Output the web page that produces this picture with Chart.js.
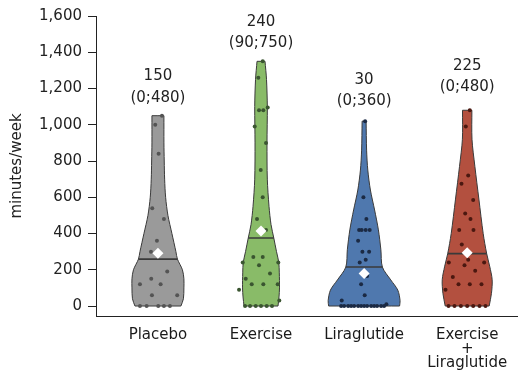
<!DOCTYPE html>
<html><head><meta charset="utf-8">
<script src="https://cdn.jsdelivr.net/npm/chart.js@4/dist/chart.umd.min.js"></script>
<style>html,body{margin:0;padding:0;background:#fff}#wrap{width:523px;height:380px;position:relative}</style>
</head><body><div id="wrap"><canvas id="c"></canvas></div>
<script>
// ---------- data ----------
const categories = ['Placebo', 'Exercise', 'Liraglutide', 'Exercise + Liraglutide'];
const tickLabels = [['Placebo'], ['Exercise'], ['Liraglutide'], ['Exercise', '+', 'Liraglutide']];
const yTicks = [0, 200, 400, 600, 800, 1000, 1200, 1400, 1600];
const medianText = ['150', '240', '30', '225'];
const rangeText = ['(0;480)', '(90;750)', '(0;360)', '(0;480)'];

const placeboValues = [1050, 1000, 840, 540, 480, 360, 300, 190, 150, 120, 120, 60, 60, 0, 0, 0, 0, 0];
const exerciseValues = [1350, 1260, 1080, 1080, 1095, 990, 900, 750, 600, 480, 420, 270, 270, 240, 240, 225, 180, 150, 120, 120, 120, 90, 30, 0, 0, 0, 0, 0, 0];
const liraglutideValues = [1020, 600, 480, 420, 420, 420, 420, 360, 300, 300, 255, 240, 165, 120, 60, 30, 10, 0, 0, 0, 0, 0, 0, 0, 0, 0, 0, 0, 0, 0, 0];
const comboValues = [1080, 990, 720, 675, 585, 510, 480, 420, 420, 340, 255, 240, 240, 225, 195, 160, 120, 120, 120, 90, 0, 0, 0, 0, 0, 0, 0];

// horizontal jitter of each dot (px)
const placeboJitter = [4, -2.7, 0.7, -5.7, 6, -1, -7, 9.3, -6.7, -18, 2.7, -6, 19.3, -18, -11.3, 0.3, 6, 12];
const exerciseJitter = [1.7, -2.7, -2, 2.3, 6.7, -6.3, 5, -0.3, 1.7, -4, 5, -7.7, 1.7, -18.3, 17.3, -2, 9, -15.3, -9.3, 2.3, 16.7, -22, 18.3, -16, -11, -5.3, 0, 5.7, 11];
const liraglutideJitter = [1, -0.7, 2.3, -5, -2.4, 1.6, 5.6, -6, -1.7, 5, 1.6, -4.4, 3, -3, 0.6, -22.4, 22.3, -23, -20, -16, -13, -10, -6, -3, 0, 3, 7, 10, 13, 17, 20];
const comboJitter = [2.6, -1.4, 1, -5.7, 6, -2, 3.3, -8, 6.3, -5.4, 1, -18.4, 17, -2.7, 8, -14.4, -8.7, 2.6, 14.3, -21.7, -18.7, -12.7, -6.3, 0, 6, 12.3, 18.3];

const means = [291, 414, 180, 294];
const midLines = [259, 375, 215, 289];

// violin outlines: levels (minutes/week) and half widths (px)
const placeboLevels = [0, 40, 100, 150, 200, 259, 300, 400, 500, 600, 700, 800, 900, 1050];
const placeboWidths = [23, 25.5, 26, 26, 24.5, 19.5, 18, 14, 10, 7.7, 6.7, 6.3, 6, 6];
const exerciseLevels = [0, 50, 100, 183, 240, 300, 375, 450, 550, 700, 900, 1100, 1250, 1350];
const exerciseWidths = [17, 18, 18.5, 18.3, 17.8, 15.5, 12.8, 10, 8, 6.3, 6, 6.3, 5.5, 4];
const liraglutideLevels = [0, 30, 88, 144, 215, 310, 420, 530, 640, 750, 860, 1020];
const liraglutideWidths = [35.5, 36, 33.7, 26.7, 18.3, 16.8, 14.3, 10.5, 6.3, 3.7, 2.5, 2];
const comboLevels = [0, 70, 145, 220, 289, 400, 590, 770, 920, 1080];
const comboWidths = [22, 24.3, 25, 22.5, 19.5, 16, 11.7, 7.7, 4.8, 4.7];

// ---------- styles ----------
const fills = ['#9a9a9a', '#89bb68', '#4f78ae', '#b3503f'];
const dotColors = ['#545454', '#3a5530', '#1b2a44', '#4b1810'];
const outlineColor = '#3a3a3a';
const UNIT = 103.2; // px per category
const annOffset = [18, 18, 20, 23];
const FONT = '"DejaVu Sans", Verdana, sans-serif';

const groups = [
  {values: placeboValues, jitter: placeboJitter, levels: placeboLevels, widths: placeboWidths},
  {values: exerciseValues, jitter: exerciseJitter, levels: exerciseLevels, widths: exerciseWidths},
  {values: liraglutideValues, jitter: liraglutideJitter, levels: liraglutideLevels, widths: liraglutideWidths},
  {values: comboValues, jitter: comboJitter, levels: comboLevels, widths: comboWidths}
];

const datasets = [];
groups.forEach((g, i) => {
  const right = g.levels.map((y, k) => ({x: i + g.widths[k] / UNIT, y}));
  const left = g.levels.map((y, k) => ({x: i - g.widths[k] / UNIT, y})).reverse();
  // repeat corner points so the spline keeps the flat ends sharp
  const path = [right[0]].concat(right, [right[right.length - 1]], [left[0]], left, [left[left.length - 1]], [right[0]], [right[0]]);
  datasets.push({
    type: 'line', data: path, fill: 'shape',
    backgroundColor: fills[i], borderColor: outlineColor, borderWidth: 1,
    pointRadius: 0, tension: 0.3, order: 4
  });
  const k = g.levels.indexOf(midLines[i]);
  datasets.push({
    type: 'line', data: [{x: i - g.widths[k] / UNIT, y: midLines[i]}, {x: i + g.widths[k] / UNIT, y: midLines[i]}],
    fill: false, borderColor: outlineColor, borderWidth: 1.6, pointRadius: 0, order: 3
  });
  datasets.push({
    type: 'scatter', data: g.values.map((v, j) => ({x: i + g.jitter[j] / UNIT, y: v})),
    backgroundColor: dotColors[i], borderWidth: 0, pointRadius: 2, order: 2
  });
});
datasets.push({
  type: 'scatter', data: means.map((m, i) => ({x: i, y: m})),
  pointStyle: 'rectRot', pointRadius: 5.5, backgroundColor: '#ffffff', borderWidth: 0, order: 1
});

const annotate = {
  id: 'annot',
  afterDatasetsDraw(chart) {
    const {ctx, scales: {x, y}} = chart;
    ctx.save();
    ctx.font = '15px ' + FONT;
    ctx.fillStyle = '#222';
    ctx.textAlign = 'center';
    ctx.textBaseline = 'middle';
    groups.forEach((g, i) => {
      const top = Math.max(...g.values);
      const px = x.getPixelForValue(i);
      const py = y.getPixelForValue(top) - annOffset[i];
      ctx.fillText(rangeText[i], px, py);
      ctx.fillText(medianText[i], px, py - 21.5);
    });
    ctx.restore();
  }
};

new Chart(document.getElementById('c'), {
  type: 'scatter',
  data: {datasets},
  plugins: [annotate],
  options: {
    responsive: true, maintainAspectRatio: false, animation: false,
    layout: {padding: {top: 16, right: 5, left: 0, bottom: 0}},
    plugins: {legend: {display: false}, tooltip: {enabled: false}},
    scales: {
      x: {
        type: 'linear', min: -0.6008, max: 3.488,
        afterBuildTicks: s => { s.ticks = categories.map((c, i) => ({value: i})); },
        afterFit: s => { s.height = 64; },
        grid: {display: false, drawTicks: false},
        border: {display: true, color: '#222', width: 1},
        ticks: {
          padding: 12.5, color: '#1a1a1a', maxRotation: 0, autoSkip: false,
          font: {family: FONT, size: 15, lineHeight: 0.92},
          callback: v => tickLabels[v]
        }
      },
      y: {
        type: 'linear', min: -55, max: 1600,
        afterBuildTicks: s => { s.ticks = yTicks.map(v => ({value: v})); },
        afterFit: s => { s.width = 96; },
        grid: {display: true, drawOnChartArea: false, drawTicks: true, tickLength: 8, color: '#222'},
        border: {display: true, color: '#222', width: 1},
        ticks: {
          padding: 6, color: '#222', font: {family: FONT, size: 15},
          callback: v => v.toLocaleString('en-US')
        },
        title: {display: true, text: 'minutes/week', color: '#222', font: {family: FONT, size: 15}, padding: {top: 8.5, bottom: 0}}
      }
    }
  }
});
</script></body></html>
